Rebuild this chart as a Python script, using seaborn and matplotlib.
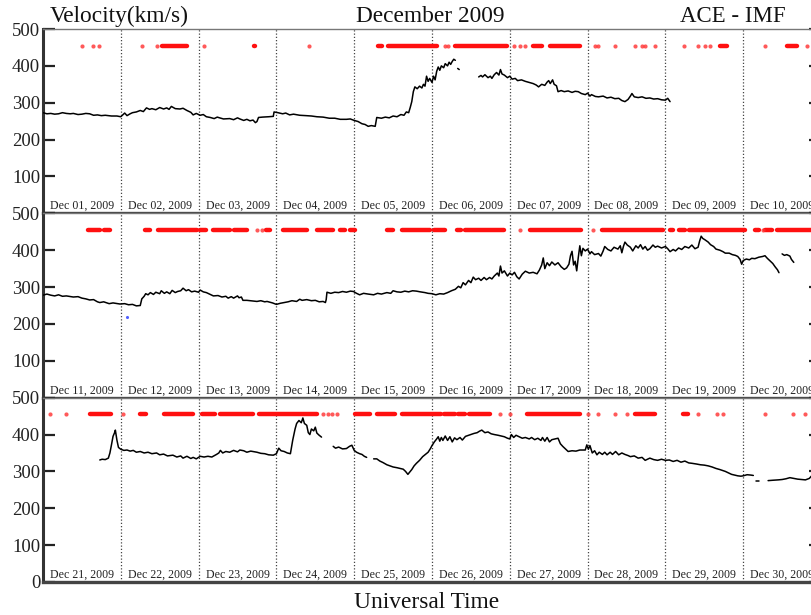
import numpy as np
import pandas as pd
import matplotlib
matplotlib.use("Agg")
import matplotlib.pyplot as plt
import seaborn as sns

sns.set_style("ticks")
plt.rcParams["font.family"] = ["Liberation Serif", "DejaVu Serif"]

# Solar wind speed (km/s) as (day offset within the row, speed).
# None marks a data gap.
row1_speed = [
    (0.0, 273), (0.05, 270), (0.1, 271), (0.15, 269), (0.2, 270), (0.25, 273), (0.3, 271),
    (0.35, 270), (0.39, 271), (0.45, 268), (0.5, 269), (0.55, 271), (0.6, 270), (0.65, 266),
    (0.7, 267), (0.75, 265), (0.8, 266), (0.88, 264), (0.95, 264), (1.0, 262), (1.03, 268),
    (1.05, 272), (1.08, 265), (1.12, 270), (1.15, 273), (1.2, 275), (1.25, 279), (1.29, 276),
    (1.33, 286), (1.37, 282), (1.4, 284), (1.45, 281), (1.5, 287), (1.55, 283), (1.59, 286),
    (1.62, 282), (1.65, 290), (1.7, 284), (1.76, 283), (1.8, 285), (1.85, 279), (1.9, 274),
    (1.93, 267), (1.97, 271), (2.02, 266), (2.06, 268), (2.1, 262), (2.15, 260), (2.2, 257),
    (2.24, 261), (2.27, 259), (2.32, 256), (2.4, 257), (2.45, 254), (2.5, 259), (2.53, 256),
    (2.58, 252), (2.62, 255), (2.66, 251), (2.7, 253), (2.73, 246), (2.75, 249), (2.77, 260),
    (2.82, 261), (2.9, 262), (2.96, 263), (2.97, 275), (3.02, 273), (3.08, 270), (3.12, 272),
    (3.17, 267), (3.22, 269), (3.3, 266), (3.38, 265), (3.45, 264), (3.52, 262), (3.6, 261),
    (3.68, 258), (3.75, 258), (3.82, 255), (3.9, 255), (3.95, 256), (4.0, 252), (4.05, 249),
    (4.1, 243), (4.14, 241), (4.18, 236), (4.22, 238), (4.27, 236), (4.29, 260), (4.35, 258),
    (4.4, 261), (4.45, 259), (4.5, 264), (4.55, 262), (4.6, 268), (4.64, 266), (4.67, 275),
    (4.7, 273), (4.72, 287), (4.74, 303), (4.76, 330), (4.78, 343), (4.81, 338), (4.84, 345),
    (4.87, 340), (4.89, 350), (4.91, 345), (4.93, 372), (4.95, 358), (4.97, 366), (5.0, 355),
    (5.02, 372), (5.04, 362), (5.06, 385), (5.08, 397), (5.1, 388), (5.12, 400), (5.15, 395),
    (5.17, 406), (5.2, 400), (5.22, 410), (5.24, 404), (5.26, 412), (5.28, 418), (5.3, 415),
    None,
    (5.33, 393), (5.35, 390),
    None,
    (5.6, 370), (5.63, 374), (5.65, 370), (5.68, 376), (5.72, 368), (5.75, 372), (5.77, 366),
    (5.8, 376), (5.83, 382), (5.86, 375), (5.88, 390), (5.9, 378), (5.93, 375), (5.97, 368),
    (6.0, 372), (6.03, 364), (6.07, 366), (6.1, 360), (6.15, 362), (6.2, 358), (6.25, 355),
    (6.3, 352), (6.34, 348), (6.37, 343), (6.41, 350), (6.45, 347), (6.48, 356), (6.5, 360),
    (6.52, 352), (6.55, 362), (6.57, 350), (6.6, 346), (6.62, 330), (6.66, 333), (6.7, 330),
    (6.75, 332), (6.8, 328), (6.84, 331), (6.88, 330), (6.92, 325), (6.97, 322), (7.0, 326),
    (7.03, 318), (7.05, 322), (7.1, 317), (7.14, 316), (7.2, 318), (7.25, 313), (7.3, 315),
    (7.35, 311), (7.4, 312), (7.44, 306), (7.48, 303), (7.52, 309), (7.55, 318), (7.57, 325),
    (7.6, 316), (7.65, 314), (7.7, 316), (7.75, 312), (7.8, 313), (7.85, 310), (7.9, 311),
    (7.95, 308), (8.0, 307), (8.03, 312), (8.06, 303),
]

row2_speed = [
    (0.0, 278), (0.05, 281), (0.1, 278), (0.15, 276), (0.2, 279), (0.25, 275), (0.3, 276),
    (0.39, 273), (0.45, 274), (0.5, 270), (0.55, 268), (0.6, 265), (0.65, 266), (0.7, 260),
    (0.73, 258), (0.78, 260), (0.85, 255), (0.9, 257), (0.99, 254), (1.05, 255), (1.1, 252),
    (1.15, 253), (1.2, 249), (1.25, 250), (1.27, 268), (1.3, 275), (1.32, 282), (1.35, 279),
    (1.38, 285), (1.42, 280), (1.45, 286), (1.5, 282), (1.52, 290), (1.56, 283), (1.59, 287),
    (1.63, 282), (1.66, 291), (1.7, 285), (1.73, 288), (1.77, 290), (1.8, 297), (1.84, 290),
    (1.87, 293), (1.91, 287), (1.95, 289), (2.0, 286), (2.02, 292), (2.06, 287), (2.1, 285),
    (2.15, 280), (2.19, 276), (2.25, 277), (2.3, 273), (2.35, 275), (2.38, 270), (2.42, 274),
    (2.45, 270), (2.5, 276), (2.52, 271), (2.55, 273), (2.57, 264), (2.62, 264), (2.7, 262),
    (2.75, 261), (2.8, 263), (2.85, 260), (2.88, 261), (2.95, 257), (3.0, 253), (3.05, 256),
    (3.1, 258), (3.15, 260), (3.2, 263), (3.26, 261), (3.3, 267), (3.33, 264), (3.39, 266),
    (3.45, 263), (3.5, 264), (3.55, 260), (3.6, 261), (3.63, 258), (3.64, 266), (3.65, 286),
    (3.7, 283), (3.75, 286), (3.8, 285), (3.85, 288), (3.9, 286), (3.95, 289), (3.99, 288),
    (4.03, 283), (4.07, 279), (4.12, 283), (4.18, 281), (4.25, 279), (4.3, 283), (4.35, 281),
    (4.42, 285), (4.47, 283), (4.5, 290), (4.55, 287), (4.6, 286), (4.65, 289), (4.7, 287),
    (4.75, 290), (4.8, 289), (4.85, 287), (4.91, 285), (4.95, 283), (5.0, 282), (5.05, 279),
    (5.1, 282), (5.15, 281), (5.2, 285), (5.25, 290), (5.3, 294), (5.34, 302), (5.37, 298),
    (5.4, 312), (5.43, 306), (5.47, 318), (5.5, 312), (5.53, 327), (5.56, 320), (5.6, 324),
    (5.63, 318), (5.67, 326), (5.7, 320), (5.74, 326), (5.77, 322), (5.8, 330), (5.84, 338),
    (5.86, 330), (5.88, 357), (5.9, 338), (5.93, 344), (5.97, 330), (6.0, 338), (6.03, 333),
    (6.06, 340), (6.09, 328), (6.12, 322), (6.16, 335), (6.2, 343), (6.25, 338), (6.3, 340),
    (6.35, 336), (6.38, 346), (6.41, 360), (6.43, 379), (6.45, 350), (6.48, 366), (6.51, 358),
    (6.54, 368), (6.58, 360), (6.62, 366), (6.66, 355), (6.7, 348), (6.73, 352), (6.76, 362),
    (6.78, 385), (6.8, 397), (6.82, 360), (6.84, 370), (6.86, 344), (6.88, 380), (6.9, 412),
    (6.92, 385), (6.94, 405), (6.97, 398), (7.0, 403), (7.03, 390), (7.05, 396), (7.09, 388),
    (7.14, 391), (7.17, 384), (7.2, 398), (7.22, 410), (7.26, 402), (7.3, 398), (7.34, 408),
    (7.39, 403), (7.42, 412), (7.44, 393), (7.46, 410), (7.48, 422), (7.51, 414), (7.55, 408),
    (7.58, 398), (7.62, 412), (7.65, 406), (7.68, 415), (7.71, 403), (7.74, 410), (7.77, 400),
    (7.8, 404), (7.84, 414), (7.87, 408), (7.9, 411), (7.95, 406), (8.0, 410), (8.03, 404),
    (8.06, 396), (8.1, 402), (8.13, 398), (8.17, 406), (8.21, 402), (8.25, 410), (8.3, 406),
    (8.34, 414), (8.38, 404), (8.42, 408), (8.44, 425), (8.46, 438), (8.48, 432), (8.51, 428),
    (8.55, 422), (8.58, 415), (8.62, 410), (8.65, 403), (8.7, 400), (8.74, 396), (8.77, 392),
    (8.82, 392), (8.86, 388), (8.9, 386), (8.93, 383), (8.96, 375), (8.98, 362), (9.0, 372),
    (9.04, 376), (9.08, 374), (9.11, 378), (9.15, 377), (9.2, 381), (9.25, 383), (9.28, 385),
    (9.31, 378), (9.35, 370), (9.38, 364), (9.41, 355), (9.44, 347), (9.46, 339),
    None,
    (9.5, 390), (9.53, 386), (9.56, 388), (9.6, 384), (9.62, 375), (9.65, 367),
]

row3_speed = [
    (0.73, 331), (0.76, 333), (0.8, 332), (0.84, 336), (0.86, 350), (0.88, 372), (0.9, 395),
    (0.92, 405), (0.93, 412), (0.95, 385), (0.97, 365), (1.0, 360), (1.04, 357), (1.08, 358),
    (1.12, 355), (1.16, 357), (1.2, 352), (1.25, 354), (1.3, 350), (1.35, 352), (1.4, 348),
    (1.46, 350), (1.5, 345), (1.55, 347), (1.6, 342), (1.67, 344), (1.72, 339), (1.77, 342),
    (1.8, 336), (1.85, 341), (1.9, 335), (1.93, 338), (1.97, 334), (2.02, 341), (2.07, 339),
    (2.12, 341), (2.17, 339), (2.23, 346), (2.26, 350), (2.28, 357), (2.31, 350), (2.35, 354),
    (2.4, 352), (2.45, 357), (2.5, 353), (2.53, 358), (2.58, 356), (2.62, 352), (2.67, 355),
    (2.75, 352), (2.8, 349), (2.85, 348), (2.9, 345), (2.96, 344), (3.0, 348), (3.03, 363),
    (3.06, 356), (3.1, 354), (3.14, 350), (3.18, 348), (3.21, 385), (3.24, 415), (3.26, 430),
    (3.29, 438), (3.32, 432), (3.34, 445), (3.36, 430), (3.39, 425), (3.41, 405), (3.43, 400),
    (3.45, 415), (3.48, 410), (3.5, 420), (3.52, 404), (3.55, 398), (3.58, 393),
    None,
    (3.73, 368), (3.76, 363), (3.8, 366), (3.85, 361), (3.9, 362), (3.94, 368), (3.97, 371),
    (4.0, 357), (4.03, 352), (4.07, 348), (4.1, 346), (4.13, 341), (4.16, 338),
    None,
    (4.25, 334), (4.29, 334), (4.33, 328), (4.37, 324), (4.42, 318), (4.46, 315), (4.5, 312),
    (4.55, 310), (4.59, 308), (4.63, 306), (4.66, 300), (4.69, 292), (4.72, 300), (4.74, 305),
    (4.77, 315), (4.8, 322), (4.84, 330), (4.88, 340), (4.91, 345), (4.95, 352), (4.98, 362),
    (5.0, 370), (5.03, 380), (5.06, 388), (5.08, 394), (5.1, 382), (5.12, 392), (5.14, 384),
    (5.17, 396), (5.2, 384), (5.23, 394), (5.26, 380), (5.29, 391), (5.32, 386), (5.36, 392),
    (5.39, 385), (5.43, 395), (5.47, 398), (5.5, 400), (5.54, 403), (5.58, 405), (5.61, 409),
    (5.64, 412), (5.68, 405), (5.72, 407), (5.76, 402), (5.8, 400), (5.85, 398), (5.89, 396),
    (5.93, 394), (5.97, 390), (6.0, 388), (6.02, 400), (6.05, 392), (6.08, 398), (6.12, 394),
    (6.16, 390), (6.2, 392), (6.25, 388), (6.28, 392), (6.32, 386), (6.36, 390), (6.4, 384),
    (6.42, 392), (6.45, 382), (6.48, 392), (6.51, 380), (6.54, 386), (6.58, 388), (6.62, 390),
    (6.65, 375), (6.68, 368), (6.72, 360), (6.75, 354), (6.8, 356), (6.85, 355), (6.9, 358),
    (6.97, 358), (6.99, 372), (7.01, 360), (7.03, 370), (7.06, 350), (7.09, 356), (7.12, 345),
    (7.15, 352), (7.19, 346), (7.22, 352), (7.25, 345), (7.29, 352), (7.32, 346), (7.36, 354),
    (7.4, 345), (7.44, 350), (7.48, 346), (7.52, 343), (7.55, 340), (7.6, 342), (7.65, 336),
    (7.7, 338), (7.74, 330), (7.8, 336), (7.85, 332), (7.9, 330), (7.95, 333), (8.0, 330),
    (8.05, 331), (8.1, 327), (8.15, 330), (8.2, 325), (8.25, 328), (8.3, 323), (8.34, 322),
    (8.4, 320), (8.45, 318), (8.5, 317), (8.55, 315), (8.6, 312), (8.65, 308), (8.7, 305),
    (8.74, 302), (8.77, 300), (8.81, 296), (8.85, 292), (8.89, 290), (8.93, 288), (8.97, 287),
    (9.0, 288), (9.05, 291), (9.1, 290), (9.13, 289),
    None,
    (9.17, 273), (9.2, 273),
    None,
    (9.32, 275), (9.38, 276), (9.45, 277), (9.5, 278), (9.55, 280), (9.6, 283), (9.65, 281),
    (9.7, 279), (9.75, 278), (9.8, 277), (9.85, 281), (9.88, 288), (9.92, 284), (9.97, 282),
]

# Intervals (start, end) and single times flagged along the top of each row.
row1_runs = [(1.53, 1.85), (2.71, 2.73), (4.31, 4.36), (4.44, 5.06), (5.30, 5.96),
             (6.30, 6.41), (6.52, 6.90), (8.70, 8.79), (9.56, 9.69)]
row1_dots = [0.50, 0.64, 0.72, 1.27, 1.46, 2.07, 3.42, 5.17, 5.21, 6.05, 6.13, 6.20,
             7.10, 7.14, 7.35, 7.61, 7.70, 7.74, 7.87, 8.24, 8.42, 8.51, 8.57, 9.28, 9.82]
row2_runs = [(0.58, 0.73), (0.78, 0.86), (1.31, 1.38), (1.48, 1.975), (2.02, 2.10),
             (2.19, 2.40), (2.45, 2.62), (2.87, 2.92), (3.09, 3.39), (3.52, 3.73),
             (3.82, 3.88), (3.95, 4.01), (4.42, 4.50), (4.61, 4.98), (5.03, 5.17),
             (5.32, 5.37), (5.42, 5.92), (6.26, 6.92), (7.18, 7.97), (8.06, 8.10),
             (8.17, 8.25), (8.30, 9.02), (9.15, 9.20), (9.28, 9.37), (9.43, 9.88)]
row2_dots = [2.75, 2.81, 6.13, 7.07, 9.25]
row3_runs = [(0.60, 0.88), (1.25, 1.33), (1.55, 1.93), (2.04, 2.21), (2.27, 2.70),
             (2.77, 3.52), (4.01, 4.20), (4.29, 4.52), (4.61, 5.12), (5.16, 5.30),
             (5.34, 5.42), (5.47, 5.75), (6.22, 6.90), (7.61, 7.87), (8.23, 8.29)]
row3_dots = [0.09, 0.30, 1.03, 3.60, 3.66, 3.72, 3.78, 5.87, 6.00, 7.01, 7.14, 7.35,
             7.50, 8.42, 8.66, 8.74, 9.28, 9.64, 9.79]

# Isolated low reading on Dec 12
blue_t = [1.08]
blue_v = [220]

first_days = [1, 11, 21]
flag_level = 455
y_ticks = [0, 100, 200, 300, 400, 500]


def to_frame(points):
    rows, seg = [], 0
    for p in points:
        if p is None:
            seg += 1
            continue
        rows.append((p[0], p[1], seg))
    return pd.DataFrame(rows, columns=["t", "v", "seg"])


panels = [
    (row1_speed, row1_runs, row1_dots),
    (row2_speed, row2_runs, row2_dots),
    (row3_speed, row3_runs, row3_dots),
]

W, H = 812, 615
fig = plt.figure(figsize=(W / 100, H / 100), dpi=100)

left_px, right_px = 43, 821
top_px, bottom_px = 29, 582
ph = (bottom_px - top_px) / 3

for i, (speed, runs, dots) in enumerate(panels):
    top = top_px + i * ph
    ax = fig.add_axes([left_px / W, 1 - (top + ph) / H, (right_px - left_px) / W, ph / H])
    ax.set_xlim(0, 10)
    ax.set_ylim(0, 500)

    for d in range(1, 10):
        ax.axvline(d, color="#444444", lw=0.9, ls=(0, (1, 1.6)), zorder=1)

    df = to_frame(speed)
    sns.lineplot(data=df, x="t", y="v", units="seg", estimator=None, sort=False,
                 color="black", lw=1.1, ax=ax, zorder=3)

    for s, e in runs:
        ax.plot([s, e], [flag_level, flag_level], color="#ff1010", lw=3.2,
                solid_capstyle="round", zorder=2)
    sns.scatterplot(x=dots, y=[flag_level] * len(dots), color="#ff3030", s=9,
                    linewidth=0, alpha=0.8, ax=ax, zorder=2)

    if i == 1:
        sns.scatterplot(x=blue_t, y=blue_v, color="#5060ff", s=5, linewidth=0, ax=ax)

    for d in range(10):
        ax.text(d + 0.5, 12, f"Dec {first_days[i] + d:02d}, 2009", ha="center",
                va="baseline", fontsize=8.6, color="#222222")

    ax.set_xticks([])
    ax.set_yticks(y_ticks)
    labels = [str(y) for y in y_ticks]
    if i < 2:
        labels[0] = ""
    ax.set_yticklabels(labels)
    ax.tick_params(axis="y", direction="in", length=8.5, width=1.6, left=True,
                   right=True, labelsize=13.5, pad=2, colors="#222222")
    ax.set_xlabel("")
    ax.set_ylabel("")

    ax.spines["left"].set_linewidth(2.2)
    ax.spines["left"].set_color("#333333")
    ax.spines["bottom"].set_linewidth(2.4)
    ax.spines["bottom"].set_color("#444444")
    ax.spines["top"].set_linewidth(1.0)
    ax.spines["top"].set_color("#777777")
    ax.spines["right"].set_linewidth(2.0)
    ax.spines["right"].set_color("#333333")

fig.text(50 / W, 1 - 16 / H, "Velocity(km/s)", ha="left", va="center", fontsize=16.8,
         color="#111111")
fig.text(430 / W, 1 - 16 / H, "December 2009", ha="center", va="center", fontsize=16.8,
         color="#111111")
fig.text(786 / W, 1 - 16 / H, "ACE - IMF", ha="right", va="center", fontsize=16.5,
         color="#111111")
fig.text(427 / W, 1 - 602 / H, "Universal Time", ha="center", va="center", fontsize=16.8,
         color="#111111")

fig.savefig("out.png", dpi=100)
